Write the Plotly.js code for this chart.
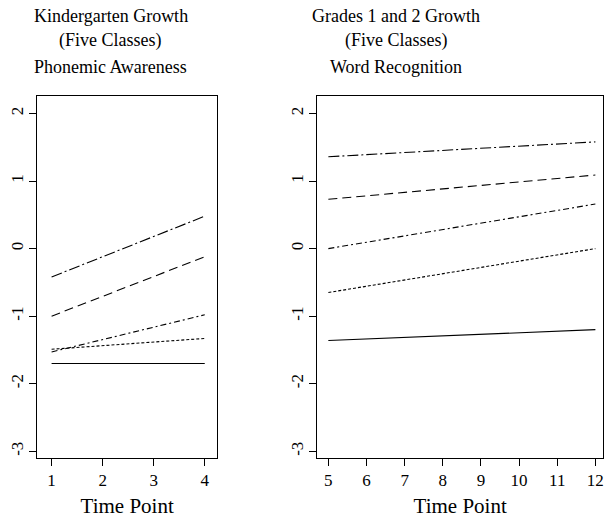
<!DOCTYPE html>
<html>
<head>
<meta charset="utf-8">
<script src="https://cdn.plot.ly/plotly-3.0.1.min.js"></script>
<style>html,body{margin:0;padding:0;background:#fff;}#chart{width:609px;height:518px;}</style>
</head>
<body>
<div id="chart"></div>
<script>
// Kindergarten panel (Phonemic Awareness), time points 1-4
const kTime = [1, 4];
const kClass1 = [-1.70, -1.70];   // solid
const kClass2 = [-1.49, -1.33];   // dotted
const kClass3 = [-1.53, -0.98];   // dot-dash
const kClass4 = [-1.00, -0.12];   // long dash
const kClass5 = [-0.42, 0.48];    // long dash-dot

// Grades 1 and 2 panel (Word Recognition), time points 5-12
const gTime = [5, 12];
const gClass1 = [-1.36, -1.20];
const gClass2 = [-0.65, 0.00];
const gClass3 = [0.00, 0.66];
const gClass4 = [0.73, 1.09];
const gClass5 = [1.36, 1.58];

const kTicks = [1, 2, 3, 4];
const gTicks = [5, 6, 7, 8, 9, 10, 11, 12];
const yTicks = [-3, -2, -1, 0, 1, 2];
const yTickText = ["-3", "-2", "-1", "0", "1", "2"];

const leftTitle = ["Kindergarten Growth", "(Five Classes)", "Phonemic Awareness"];
const rightTitle = ["Grades 1 and 2 Growth", "(Five Classes)", "Word Recognition"];
const xTitle = "Time Point";

const dashes = ["solid", "3px,2px", "6px,3px,2px,3px", "9px,5px", "11px,3px,2px,3px"];
const kSeries = [kClass1, kClass2, kClass3, kClass4, kClass5];
const gSeries = [gClass1, gClass2, gClass3, gClass4, gClass5];

const traces = [];
kSeries.forEach((s, i) => traces.push({x: kTime, y: s, xaxis: 'x', yaxis: 'y', mode: 'lines',
  line: {color: '#000', width: 1.1, dash: dashes[i]}, showlegend: false, hoverinfo: 'skip'}));
gSeries.forEach((s, i) => traces.push({x: gTime, y: s, xaxis: 'x2', yaxis: 'y2', mode: 'lines',
  line: {color: '#000', width: 1.1, dash: dashes[i]}, showlegend: false, hoverinfo: 'skip'}));

const W = 609, H = 518;
const baseFont = {family: 'Liberation Serif, Times New Roman, serif', color: '#000'};
const boxTop = 95.5, boxBottom = 458;
const yDom = [1 - boxBottom / H, 1 - boxTop / H];

function xAxis(domain, range, ticks) {
  return {domain: domain, range: range, tickvals: ticks, ticktext: ticks.map(String),
    showline: true, mirror: true, linecolor: '#000', linewidth: 1,
    ticks: 'outside', ticklen: 7, tickcolor: '#000', tickwidth: 1,
    showgrid: false, zeroline: false, fixedrange: true,
    tickfont: Object.assign({size: 17}, baseFont),
    title: {text: xTitle, font: Object.assign({size: 21}, baseFont), standoff: 10}};
}
function yAxis(domain, anchor) {
  return {domain: domain, range: [-3.10, 2.267], anchor: anchor, tickvals: yTicks, ticktext: yTickText,
    tickangle: -90, showline: true, mirror: true, linecolor: '#000', linewidth: 1,
    ticks: 'outside', ticklen: 7, tickcolor: '#000', tickwidth: 1,
    showgrid: false, zeroline: false, fixedrange: true,
    tickfont: Object.assign({size: 17}, baseFont)};
}

const annotations = [];
const lineY = [15.7, 41, 66.7];
leftTitle.forEach((t, i) => annotations.push({text: t, xref: 'paper', yref: 'paper',
  x: 110.6 / W, y: 1 - lineY[i] / H, xanchor: 'center', yanchor: 'middle', showarrow: false,
  font: Object.assign({size: 18}, baseFont)}));
rightTitle.forEach((t, i) => annotations.push({text: t, xref: 'paper', yref: 'paper',
  x: 396 / W, y: 1 - lineY[i] / H, xanchor: 'center', yanchor: 'middle', showarrow: false,
  font: Object.assign({size: 18}, baseFont)}));

const layout = {
  width: W, height: H, margin: {l: 0, r: 0, t: 0, b: 0},
  paper_bgcolor: '#fff', plot_bgcolor: '#fff', showlegend: false,
  xaxis: Object.assign(xAxis([37.3 / W, 217 / W], [0.72, 4.24], kTicks), {anchor: 'y'}),
  yaxis: yAxis(yDom, 'x'),
  xaxis2: Object.assign(xAxis([317.3 / W, 603 / W], [4.71, 12.2], gTicks), {anchor: 'y2'}),
  yaxis2: yAxis(yDom, 'x2'),
  annotations: annotations
};

Plotly.newPlot('chart', traces, layout, {staticPlot: true, displayModeBar: false});
</script>
</body>
</html>
